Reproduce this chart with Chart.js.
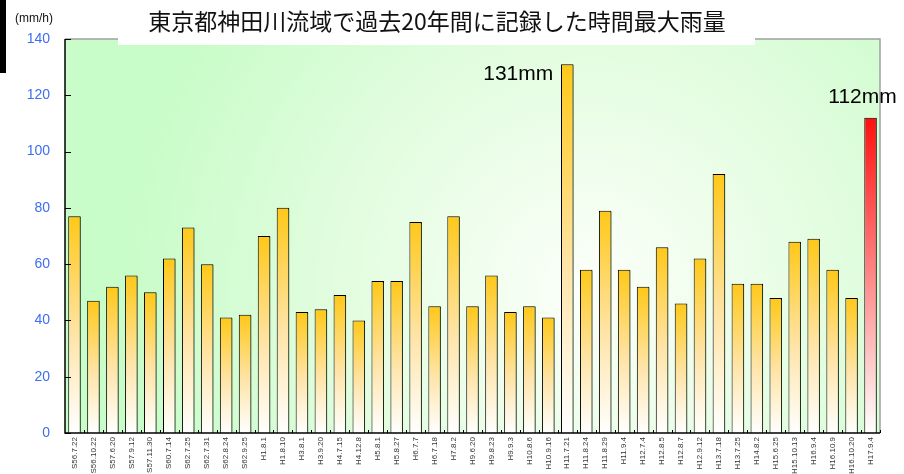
<!DOCTYPE html>
<html>
<head>
<meta charset="utf-8">
<script src="https://cdn.jsdelivr.net/npm/chart.js@4"></script>
<style>
  body { margin: 0; background: #fff; }
  #wrap { width: 904px; height: 474px; position: relative; }
</style>
</head>
<body>
<div id="wrap"><canvas id="rainChart"></canvas></div>
<script>
const titleText = "東京都神田川流域で過去20年間に記録した時間最大雨量";
const unitText = "(mm/h)";

const dates = [
    "S56.7.22", "S56.10.22", "S57.6.20", "S57.9.12", "S57.11.30", "S60.7.14", "S62.7.25", "S62.7.31",
    "S62.8.24", "S62.9.25", "H1.8.1", "H1.8.10", "H3.8.1", "H3.9.20", "H4.7.15", "H4.12.8",
    "H5.8.1", "H5.8.27", "H6.7.7", "H6.7.18", "H7.8.2", "H9.6.20", "H9.8.23", "H9.9.3",
    "H10.8.6", "H10.9.16", "H11.7.21", "H11.8.24", "H11.8.29", "H11.9.4", "H12.7.4", "H12.8.5",
    "H12.8.7", "H12.9.12", "H13.7.18", "H13.7.25", "H14.8.2", "H15.6.25", "H15.10.13", "H16.9.4",
    "H16.10.9", "H16.10.20", "H17.9.4"
];
const rainfall = [
    77, 47, 52, 56, 50, 62, 73, 60,
    41, 42, 70, 80, 43, 44, 49, 40,
    54, 54, 75, 45, 77, 45, 56, 43,
    45, 41, 131, 58, 79, 58, 52, 66,
    46, 62, 92, 53, 53, 48, 68, 69,
    58, 48, 112
];
const yMax = 140;
const yStep = 20;
const maxIndex = 26;                 // 131mm
const latestIndex = rainfall.length - 1; // 112mm, red bar

function barFill(context) {
    const chart = context.chart;
    const area = chart.chartArea;
    const red = context.dataIndex === latestIndex;
    if (!area || !chart.scales.y) return red ? "#ff2020" : "#ffcc33";
    const top = chart.scales.y.getPixelForValue(context.raw);
    const g = chart.ctx.createLinearGradient(0, top, 0, area.bottom);
    if (red) {
        g.addColorStop(0, "#ff1010");
        g.addColorStop(1, "#ffffff");
    } else {
        g.addColorStop(0, "#ffc818");
        g.addColorStop(0.55, "#ffe4a8");
        g.addColorStop(1, "#ffffff");
    }
    return g;
}

const framePlugin = {
    id: "frame",
    beforeDraw(chart) {
        const ctx = chart.ctx;
        const a = chart.chartArea;
        ctx.save();
        ctx.fillStyle = "#ffffff";
        ctx.fillRect(0, 0, chart.width, chart.height);

        // plot background: green at edges, whitish toward the middle right
        const bg = ctx.createRadialGradient(590, 290, 10, 590, 290, 470);
        bg.addColorStop(0, "#fbfff9");
        bg.addColorStop(0.45, "#e6fde3");
        bg.addColorStop(1, "#c8fcc8");
        ctx.fillStyle = bg;
        ctx.fillRect(a.left, a.top, a.right - a.left, a.bottom - a.top);

        // top and right border
        ctx.strokeStyle = "#a0a0a0";
        ctx.lineWidth = 1.5;
        ctx.beginPath();
        ctx.moveTo(a.left, a.top);
        ctx.lineTo(a.right, a.top);
        ctx.lineTo(a.right, a.bottom);
        ctx.stroke();

        // black strip at the top left
        ctx.fillStyle = "#000000";
        ctx.fillRect(0, 0, 6, 73);

        // title box
        ctx.fillStyle = "#ffffff";
        ctx.fillRect(118, 0, 637, 45);
        ctx.fillStyle = "#111111";
        ctx.font = '23px "Noto Sans CJK JP"';
        ctx.textAlign = "center";
        ctx.textBaseline = "middle";
        ctx.fillText(titleText, 437, 21);

        ctx.font = '12px "Liberation Sans"';
        ctx.textAlign = "left";
        ctx.fillText(unitText, 15, 19);
        ctx.restore();
    },
    beforeDatasetsDraw(chart) {
        const ctx = chart.ctx;
        ctx.save();
        ctx.shadowColor = "rgba(40, 70, 40, 0.6)";
        ctx.shadowOffsetX = 2;
        ctx.shadowOffsetY = 1;
        ctx.shadowBlur = 0;
    },
    afterDatasetsDraw(chart) {
        const ctx = chart.ctx;
        ctx.restore();
        const a = chart.chartArea;
        const x = chart.scales.x;
        const y = chart.scales.y;

        ctx.save();
        // axes
        ctx.strokeStyle = "#000000";
        ctx.lineWidth = 1.5;
        ctx.beginPath();
        ctx.moveTo(a.left, a.top);
        ctx.lineTo(a.left, a.bottom);
        ctx.lineTo(a.right, a.bottom);
        ctx.stroke();

        // inward ticks
        ctx.lineWidth = 1;
        ctx.beginPath();
        for (let v = 0; v <= yMax; v += yStep) {
            const py = Math.round(y.getPixelForValue(v)) + 0.5;
            ctx.moveTo(a.left, py);
            ctx.lineTo(a.left + 6, py);
        }
        for (let i = 1; i <= dates.length; i++) {
            const px = Math.round((x.getPixelForValue(i - 1) + x.getPixelForValue(i)) / 2 || a.right) + 0.5;
            ctx.moveTo(px, a.bottom);
            ctx.lineTo(px, a.bottom - 3);
        }
        ctx.stroke();

        // callouts
        ctx.fillStyle = "#000000";
        ctx.font = '21px "Liberation Sans"';
        ctx.textBaseline = "alphabetic";
        const bx = x.getPixelForValue(maxIndex);
        const by = y.getPixelForValue(rainfall[maxIndex]);
        ctx.textAlign = "right";
        ctx.fillText(rainfall[maxIndex] + "mm", bx - 14, by + 16);

        const lx = x.getPixelForValue(latestIndex);
        const ly = y.getPixelForValue(rainfall[latestIndex]);
        ctx.textAlign = "center";
        ctx.fillText(rainfall[latestIndex] + "mm", lx - 8, ly - 15);
        ctx.restore();
    }
};

new Chart(document.getElementById("rainChart"), {
    type: "bar",
    data: {
        labels: dates,
        datasets: [{
            label: "時間最大雨量",
            data: rainfall,
            backgroundColor: barFill,
            borderColor: "#000000",
            borderWidth: 1,
            borderSkipped: "bottom",
            categoryPercentage: 0.66,
            barPercentage: 1
        }]
    },
    options: {
        responsive: true,
        maintainAspectRatio: false,
        animation: false,
        layout: { padding: { left: 0, top: 39, right: 24, bottom: 0 } },
        plugins: {
            legend: { display: false },
            title: { display: false },
            tooltip: { enabled: false }
        },
        scales: {
            y: {
                min: 0,
                max: yMax,
                ticks: {
                    stepSize: yStep,
                    color: "#3d6df2",
                    padding: 15,
                    font: { family: "Liberation Sans", size: 14 }
                },
                grid: { display: false, drawTicks: false },
                border: { display: false },
                afterFit(scale) { scale.width = 65; }
            },
            x: {
                ticks: {
                    autoSkip: false,
                    minRotation: 90,
                    maxRotation: 90,
                    padding: 4,
                    color: "#333333",
                    font: { family: "Liberation Sans", size: 8 }
                },
                grid: { display: false, drawTicks: false },
                border: { display: false },
                afterFit(scale) { scale.height = 41; }
            }
        }
    },
    plugins: [framePlugin]
});
</script>
</body>
</html>
